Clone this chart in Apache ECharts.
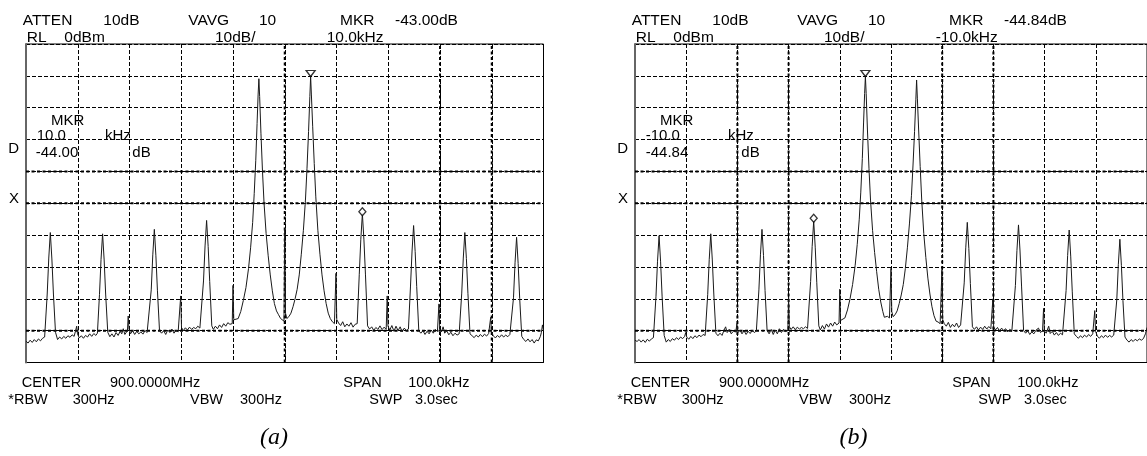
<!DOCTYPE html>
<html><head><meta charset="utf-8">
<script src="https://cdn.jsdelivr.net/npm/echarts@6/dist/echarts.min.js"></script>
<style>html,body{margin:0;padding:0;background:#fff}#c{width:1147px;height:456px}</style>
</head><body><div id="c"></div>
<script>
// ---- data: frequency offset (kHz from 900 MHz) , level (dB) ----
const traceA = [
[-50.0,-93.3],[-49.6,-93.9],[-49.2,-93.0],[-48.8,-93.7],[-48.4,-92.8],[-48.0,-93.5],[-47.6,-92.6],[-47.2,-93.2],[-46.8,-92.4],[-46.4,-92.0],
[-45.9,-78.5],[-45.6,-67.2],[-45.3,-59.2],[-45.0,-67.5],[-44.7,-78.5],[-44.3,-90.5],
[-43.9,-92.8],[-43.5,-92.0],[-43.1,-92.6],[-42.7,-91.8],[-42.3,-92.4],[-41.9,-91.6],[-41.5,-92.1],[-41.1,-91.3],[-40.7,-91.8],
[-40.35,-91.5],[-40.2,-88.6],[-40.05,-91.0],
[-39.7,-92.3],[-39.3,-91.6],[-38.9,-92.4],[-38.5,-91.5],[-38.1,-92.0],[-37.7,-91.0],[-37.3,-91.8],[-36.9,-90.9],[-36.5,-91.5],[-36.2,-90.8],
[-35.8,-78.6],[-35.5,-67.6],[-35.2,-59.6],[-34.9,-67.8],[-34.6,-78.8],[-34.2,-90.5],
[-33.8,-91.9],[-33.4,-91.0],[-33.0,-92.0],[-32.6,-90.6],[-32.2,-91.5],[-31.8,-90.2],[-31.5,-91.0],[-31.2,-89.4],[-30.9,-91.2],
[-30.4,-90.0],[-30.25,-85.4],[-30.1,-89.5],
[-29.8,-91.0],[-29.4,-90.0],[-29.0,-91.2],[-28.6,-90.2],[-28.2,-91.0],[-27.8,-90.4],[-27.4,-91.1],[-27.0,-90.0],[-26.6,-90.6],[-26.3,-90.2],
[-25.8,-77.2],[-25.5,-66.2],[-25.2,-58.2],[-24.9,-66.5],[-24.6,-77.5],[-24.2,-90.0],
[-23.8,-90.8],[-23.4,-90.0],[-23.0,-91.2],[-22.6,-89.8],[-22.2,-90.6],[-21.8,-89.5],[-21.4,-90.8],[-21.0,-89.9],[-20.6,-90.4],
[-20.25,-90.0],[-20.1,-79.1],[-19.95,-89.0],
[-19.6,-90.0],[-19.2,-89.1],[-18.8,-89.8],[-18.4,-88.9],[-18.0,-89.6],[-17.6,-89.0],[-17.2,-89.4],[-16.8,-88.6],[-16.4,-89.2],[-16.1,-88.8],
[-15.7,-74.4],[-15.4,-63.4],[-15.1,-55.4],[-14.8,-63.6],[-14.5,-74.6],[-14.1,-88.5],
[-13.8,-89.6],[-13.4,-88.6],[-13.0,-89.4],[-12.6,-88.2],[-12.2,-89.0],[-11.8,-87.8],[-11.4,-88.6],[-11.0,-87.5],[-10.6,-88.0],
[-10.15,-87.8],[-10.0,-75.8],[-9.85,-86.6],
[-9.5,-87.0],[-9.0,-86.2],[-8.5,-84.0],[-8.0,-80.5],[-7.5,-76.5],[-7.0,-70.5],[-6.6,-64.0],[-6.2,-56.0],[-5.9,-47.0],[-5.6,-36.5],[-5.35,-25.0],[-5.15,-16.0],
[-5.0,-10.9],[-4.85,-16.5],[-4.6,-28.0],[-4.3,-40.0],[-4.0,-50.0],[-3.6,-59.5],[-3.2,-66.5],[-2.8,-72.5],[-2.4,-77.5],[-2.0,-81.5],[-1.6,-83.8],[-1.2,-85.0],[-0.8,-86.2],[-0.45,-85.6],[-0.15,-87.0],
[0.0,-57.9],[0.15,-84.5],
[0.4,-86.2],[0.8,-85.6],[1.2,-84.5],[1.6,-82.5],[2.0,-80.0],[2.4,-77.0],[2.8,-72.5],[3.2,-66.0],[3.6,-58.5],[4.0,-49.0],[4.3,-39.0],[4.6,-27.5],[4.85,-16.5],
[5.0,-10.2],[5.15,-16.0],[5.4,-26.0],[5.7,-37.5],[6.0,-48.0],[6.4,-58.5],[6.8,-66.0],[7.2,-72.5],[7.6,-77.5],[8.0,-81.5],[8.4,-84.5],[8.8,-86.2],[9.2,-87.2],[9.6,-87.8],
[9.9,-72.0],[10.05,-86.5],
[10.4,-87.6],[10.8,-88.4],[11.2,-87.2],[11.6,-88.8],[12.0,-87.9],[12.4,-88.6],[12.8,-87.5],[13.2,-88.9],[13.6,-88.0],[14.0,-87.8],
[14.4,-72.3],[14.7,-61.3],[15.0,-53.3],[15.3,-61.5],[15.6,-72.5],[16.0,-88.5],
[16.4,-89.5],[16.8,-88.8],[17.2,-89.9],[17.6,-89.0],[18.0,-89.6],[18.4,-88.5],[18.8,-89.7],[19.2,-88.9],[19.6,-89.6],
[19.8,-79.1],[19.95,-88.6],
[20.3,-89.8],[20.7,-88.4],[21.1,-90.2],[21.5,-88.6],[21.9,-90.0],[22.3,-88.8],[22.7,-90.4],[23.1,-89.2],[23.5,-90.0],[23.9,-89.5],
[24.3,-76.0],[24.6,-65.0],[24.9,-57.0],[25.2,-65.2],[25.5,-76.2],[25.9,-90.0],
[26.3,-90.8],[26.7,-90.0],[27.1,-91.2],[27.5,-90.2],[27.9,-91.0],[28.3,-89.8],[28.7,-90.8],[29.1,-89.6],[29.5,-90.3],
[29.8,-81.6],[29.95,-89.5],
[30.3,-90.4],[30.6,-88.8],[30.9,-90.8],[31.3,-90.0],[31.7,-91.3],[32.1,-90.5],[32.5,-91.6],[32.9,-90.8],[33.3,-91.4],[33.7,-91.0],
[34.2,-78.2],[34.5,-67.2],[34.8,-59.2],[35.1,-67.4],[35.4,-78.4],[35.8,-91.0],
[36.2,-91.6],[36.6,-92.2],[37.0,-91.4],[37.4,-92.0],[37.8,-91.2],[38.2,-91.9],[38.6,-91.1],[39.0,-91.7],[39.4,-90.9],
[39.65,-90.8],[39.8,-85.8],[39.95,-90.4],
[40.3,-91.6],[40.7,-92.3],[41.1,-91.5],[41.5,-92.1],[41.9,-91.3],[42.3,-92.0],[42.7,-91.4],[43.1,-91.9],[43.5,-91.2],
[44.2,-79.7],[44.5,-68.7],[44.8,-60.7],[45.1,-68.9],[45.4,-79.9],[45.8,-91.8],
[46.2,-92.8],[46.6,-93.4],[47.0,-92.6],[47.4,-93.5],[47.8,-92.8],[48.2,-93.9],[48.6,-92.9],[49.0,-93.2],[49.4,-91.8],[49.6,-90.5],[49.8,-88.2],[50.0,-90.0]
];
const traceB = [
[-50.0,-93.0],[-49.6,-93.4],[-49.2,-92.8],[-48.8,-93.6],[-48.4,-92.9],[-48.0,-93.7],[-47.6,-92.7],[-47.2,-93.3],[-46.8,-92.6],[-46.4,-92.2],
[-45.9,-79.2],[-45.6,-68.2],[-45.3,-60.2],[-45.0,-68.4],[-44.7,-79.4],[-44.3,-91.5],
[-43.9,-93.6],[-43.5,-92.8],[-43.1,-93.4],[-42.7,-92.5],[-42.3,-93.0],[-41.9,-92.2],[-41.5,-92.8],[-41.1,-92.0],[-40.7,-92.5],
[-40.3,-91.8],[-40.1,-90.6],[-39.9,-92.0],
[-39.5,-92.7],[-39.1,-91.8],[-38.7,-92.5],[-38.3,-91.6],[-37.9,-92.2],[-37.5,-91.4],[-37.1,-91.9],[-36.7,-91.2],[-36.3,-91.5],
[-35.8,-78.6],[-35.5,-67.6],[-35.2,-59.6],[-34.9,-67.8],[-34.6,-78.8],[-34.2,-90.8],
[-33.8,-91.6],[-33.4,-90.8],[-33.0,-91.5],[-32.6,-89.8],[-32.3,-88.8],[-32.0,-90.6],[-31.6,-89.6],[-31.2,-91.0],[-30.8,-90.2],
[-30.3,-90.4],[-30.1,-87.8],[-29.9,-90.6],
[-29.5,-89.8],[-29.1,-91.0],[-28.7,-90.0],[-28.3,-91.2],[-27.9,-90.2],[-27.5,-90.9],[-27.1,-89.9],[-26.7,-90.6],[-26.3,-90.1],
[-25.8,-77.2],[-25.5,-66.2],[-25.2,-58.2],[-24.9,-66.4],[-24.6,-77.4],[-24.2,-90.0],
[-23.8,-91.0],[-23.4,-89.6],[-23.0,-91.2],[-22.6,-89.8],[-22.2,-91.0],[-21.8,-89.4],[-21.4,-90.6],[-21.0,-89.6],[-20.6,-90.3],
[-20.15,-90.0],[-20.0,-79.5],[-19.85,-88.8],
[-19.5,-89.6],[-19.1,-88.8],[-18.7,-89.7],[-18.3,-88.9],[-17.9,-89.5],[-17.5,-89.0],[-17.1,-89.4],[-16.7,-88.8],[-16.3,-89.3],[-16.0,-88.9],
[-15.7,-74.6],[-15.4,-63.6],[-15.1,-55.6],[-14.8,-63.8],[-14.5,-74.8],[-14.1,-88.5],
[-13.8,-89.8],[-13.4,-88.4],[-13.0,-89.5],[-12.6,-87.9],[-12.2,-88.9],[-11.8,-87.6],[-11.4,-88.6],[-11.0,-87.3],[-10.6,-88.2],
[-10.15,-87.6],[-10.0,-77.0],[-9.85,-86.8],
[-9.5,-87.0],[-9.0,-86.0],[-8.5,-83.5],[-8.0,-80.0],[-7.5,-75.5],[-7.0,-69.5],[-6.6,-63.0],[-6.2,-55.0],[-5.9,-46.5],[-5.6,-36.0],[-5.35,-24.5],[-5.15,-15.5],
[-5.0,-10.2],[-4.85,-15.5],[-4.6,-27.0],[-4.3,-39.0],[-4.0,-49.0],[-3.6,-58.5],[-3.2,-65.5],[-2.8,-71.5],[-2.4,-77.0],[-2.0,-81.0],[-1.6,-84.0],[-1.3,-85.8],[-1.0,-86.4],[-0.7,-85.5],[-0.3,-86.0],[-0.1,-85.5],
[0.0,-70.4],[0.15,-84.0],
[0.4,-85.6],[0.8,-85.0],[1.2,-83.8],[1.6,-81.5],[2.0,-78.8],[2.4,-75.5],[2.8,-70.5],[3.2,-64.0],[3.6,-56.5],[4.0,-47.5],[4.3,-38.0],[4.6,-27.5],[4.85,-17.5],
[5.0,-11.3],[5.15,-17.0],[5.4,-27.0],[5.7,-38.5],[6.0,-49.0],[6.4,-59.5],[6.8,-67.0],[7.2,-73.5],[7.6,-78.5],[8.0,-82.5],[8.4,-85.3],[8.8,-87.0],[9.2,-87.3],[9.6,-87.8],
[9.95,-70.7],[10.1,-86.5],
[10.4,-87.8],[10.8,-88.6],[11.2,-87.4],[11.6,-89.0],[12.0,-88.0],[12.4,-88.8],[12.8,-87.6],[13.2,-89.0],[13.6,-88.2],[13.9,-88.0],
[14.3,-75.0],[14.6,-64.0],[14.9,-56.0],[15.2,-64.2],[15.5,-75.2],[15.9,-88.8],
[16.3,-89.6],[16.7,-88.8],[17.1,-89.8],[17.5,-88.9],[17.9,-89.6],[18.3,-88.6],[18.7,-89.5],[19.1,-88.7],[19.5,-89.4],
[19.75,-89.0],[19.9,-80.0],[20.05,-88.8],
[20.4,-89.8],[20.8,-89.0],[21.2,-90.2],[21.6,-89.2],[22.0,-90.0],[22.4,-89.4],[22.8,-90.4],[23.2,-89.6],[23.6,-90.2],[23.9,-89.8],
[24.3,-75.8],[24.6,-64.8],[24.9,-56.8],[25.2,-65.0],[25.5,-76.0],[25.9,-90.0],
[26.3,-90.8],[26.7,-90.0],[27.1,-91.2],[27.5,-90.4],[27.9,-91.0],[28.3,-89.9],[28.8,-89.2],[29.2,-90.6],[29.6,-90.0],
[29.8,-83.0],[29.95,-90.0],
[30.3,-90.8],[30.8,-88.6],[31.1,-90.9],[31.5,-90.2],[31.9,-91.4],[32.3,-90.6],[32.7,-91.5],[33.1,-90.8],[33.5,-91.3],[33.8,-90.9],
[34.2,-77.4],[34.5,-66.4],[34.8,-58.4],[35.1,-66.6],[35.4,-77.6],[35.8,-91.0],
[36.2,-91.8],[36.6,-92.4],[37.0,-91.6],[37.4,-92.2],[37.8,-91.4],[38.2,-92.0],[38.6,-91.2],[39.0,-91.8],[39.4,-91.0],
[39.65,-90.8],[39.8,-83.7],[39.95,-90.2],
[40.3,-91.7],[40.7,-92.4],[41.1,-91.6],[41.5,-92.2],[41.9,-91.4],[42.3,-92.1],[42.7,-91.5],[43.1,-92.0],[43.5,-91.4],
[44.1,-80.3],[44.4,-69.3],[44.7,-61.3],[45.0,-69.5],[45.3,-80.5],[45.7,-92.0],
[46.1,-93.0],[46.5,-93.6],[46.9,-92.8],[47.3,-93.4],[47.7,-92.7],[48.1,-93.2],[48.5,-92.6],[48.9,-93.0],[49.3,-92.5],[49.7,-91.0],[50.0,-89.0]
];
const refMarkerA = [5.0, -10.2];
const deltaMarkerA = [15.0, -52.7];
const refMarkerB = [-5.0, -10.2];
const deltaMarkerB = [-15.1, -54.7];
const heavyXA = [0, 30, 40];
const heavyXB = [-30, -20, 10, 20];
const heavyY = [-40, -50, -90];
const spanX = [-50, 50];
const spanY = [-100, 0];

const headerA = ['ATTEN','10dB','VAVG','10','MKR','-43.00dB','RL','0dBm','10dB/','10.0kHz'];
const headerB = ['ATTEN','10dB','VAVG','10','MKR','-44.84dB','RL','0dBm','10dB/','-10.0kHz'];
const readoutA = ['MKR','10.0','kHz','D','-44.00','dB','X'];
const readoutB = ['MKR','-10.0','kHz','D','-44.84','dB','X'];
const footer = ['CENTER','900.0000MHz','SPAN','100.0kHz','*RBW','300Hz','VBW','300Hz','SWP','3.0sec'];
const captions = ['(a)','(b)'];

// ---- layout (pixel positions of the annotation texts) ----
const headerPos = [[22.7,20.5],[103.3,20.5],[188.3,20.5],[259,20.5],[340,20.5],[395,20.5],[26.7,37.5],[64.3,37.5],[215,37.5],[326.7,37.5]];
const readoutPosA = [[51,121],[36.7,135.5],[105,135.5],[8.3,149],[35.7,152.5],[132.3,152.5],[9,199]];
const readoutPosB = [[51,121],[36.7,135.5],[119,135.5],[8.3,149],[36.7,152.5],[132.3,152.5],[9,199]];
const footerPos = [[21.7,382.5],[110,382.5],[343.3,382.5],[408.3,382.5],[8.3,399.7],[72.7,399.7],[190,399.7],[240,399.7],[369.3,399.7],[415,399.7]];
const captionPos = [[274,437.5],[853.5,437.5]];
const panelShift = 609;

const FONT = '"Liberation Sans", Arial, sans-serif';
function txt(s, x, y, size, align, font) {
  return {type:'text', x:x, y:y, silent:true,
    style:{text:s, font:(font || (size + 'px ' + FONT)), fill:'#000',
      align: align || 'left', verticalAlign:'middle', textAlign: align || 'left', textVerticalAlign:'middle'}};
}
const graphics = [];
headerA.forEach((s,i)=>graphics.push(txt(s, headerPos[i][0], headerPos[i][1], 15.5)));
headerB.forEach((s,i)=>graphics.push(txt(s, headerPos[i][0]+panelShift, headerPos[i][1], 15.5)));
readoutA.forEach((s,i)=>graphics.push(txt(s, readoutPosA[i][0], readoutPosA[i][1], 15)));
readoutB.forEach((s,i)=>graphics.push(txt(s, readoutPosB[i][0]+panelShift, readoutPosB[i][1], 15)));
footer.forEach((s,i)=>{
  graphics.push(txt(s, footerPos[i][0], footerPos[i][1], 14.5));
  graphics.push(txt(s, footerPos[i][0]+panelShift, footerPos[i][1], 14.5));
});
captions.forEach((s,i)=>graphics.push(txt(s, captionPos[i][0], captionPos[i][1], 24, 'center', 'italic 24px "Liberation Serif", "Times New Roman", serif')));

const dash = [4, 2];
function xAx(idx){ return {type:'value', gridIndex:idx, min:-50, max:50, interval:10,
  axisLabel:{show:false}, axisTick:{show:false}, axisLine:{show:false},
  splitLine:{show:true, lineStyle:{color:'#000', width:1, type:dash}}}; }
function yAx(idx){ return {type:'value', gridIndex:idx, min:-100, max:0, interval:10,
  axisLabel:{show:false}, axisTick:{show:false},
  axisLine:{show:true, onZero:false, lineStyle:{color:'#666', width:2}},
  splitLine:{show:true, lineStyle:{color:'#000', width:1, type:dash}}}; }
function heavyLines(xs, idx){
  const out = [];
  xs.forEach(v=>out.push([[v, spanY[0]],[v, spanY[1]]]));
  heavyY.forEach(v=>out.push([[spanX[0], v],[spanX[1], v]]));
  return out.map(d=>({type:'line', xAxisIndex:idx, yAxisIndex:idx, data:d, showSymbol:false, silent:true,
    animation:false, z:2, lineStyle:{color:'#000', width:2, type:[3,2.5]}}));
}
function trace(data, idx){
  return {type:'line', xAxisIndex:idx, yAxisIndex:idx, data:data, showSymbol:false,
    lineStyle:{color:'#1a1a1a', width:1}, silent:true, animation:false, z:3};
}
function marker(pt, idx, sym){
  const tri = sym === 'tri';
  return {type:'scatter', xAxisIndex:idx, yAxisIndex:idx, data:[pt], silent:true, animation:false, z:5,
    symbol: tri ? 'triangle' : 'diamond', symbolRotate: tri ? 180 : 0,
    symbolSize: tri ? [9,6] : [7,8], symbolOffset: tri ? [0,-3] : [0,0],
    itemStyle:{color:'#fff', borderColor:'#000', borderWidth:1.3}};
}

const chart = echarts.init(document.getElementById('c'), null, {renderer:'canvas'});
chart.setOption({
  backgroundColor:'#fff',
  animation:false,
  grid:[
    {left:26, top:44, width:517.5, height:318.5, show:true, borderColor:'#000', borderWidth:1, backgroundColor:'transparent'},
    {left:635, top:44, width:518, height:318.5, show:true, borderColor:'#000', borderWidth:1, backgroundColor:'transparent'}
  ],
  xAxis:[xAx(0), xAx(1)],
  yAxis:[yAx(0), yAx(1)],
  series: heavyLines(heavyXA, 0).concat(heavyLines(heavyXB, 1)).concat([
    trace(traceA, 0), trace(traceB, 1),
    marker(refMarkerA, 0, 'tri'), marker(deltaMarkerA, 0, 'dia'),
    marker(refMarkerB, 1, 'tri'), marker(deltaMarkerB, 1, 'dia')
  ]),
  graphic: graphics
});
</script></body></html>
